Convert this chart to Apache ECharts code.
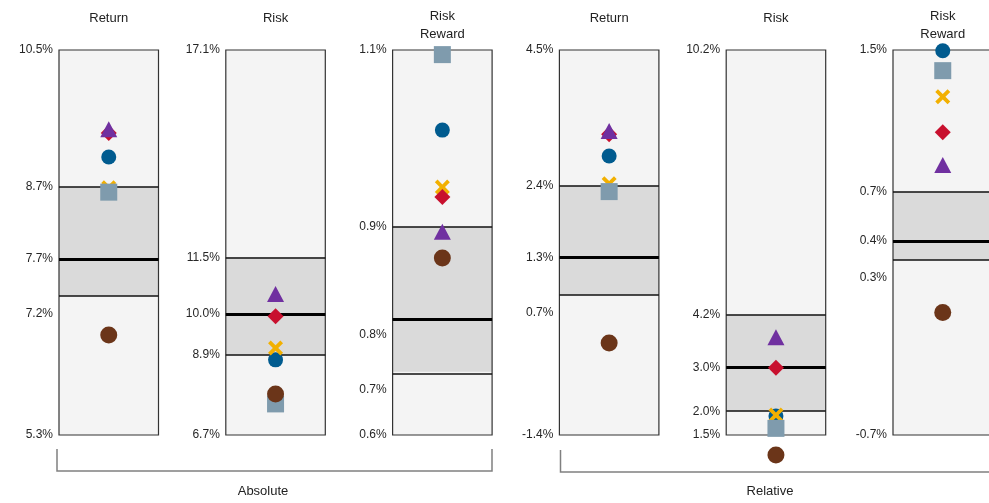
<!DOCTYPE html>
<html>
<head>
<meta charset="utf-8">
<script src="https://cdn.jsdelivr.net/npm/echarts@6/dist/echarts.min.js"></script>
<style>
html,body{margin:0;padding:0;background:#fff;}
#chart{width:989px;height:503px;}
</style>
</head>
<body>
<div id="chart"></div>
<script>
// ---------- DATA ----------
const panelTitles = ['Return', 'Risk', 'Risk\nReward', 'Return', 'Risk', 'Risk\nReward'];
const groupNames = ['Absolute', 'Relative'];

const axisMin = [5.3, 6.7, 0.6, -1.4, 1.5, -0.7];
const axisMax = [10.5, 17.1, 1.1, 4.5, 10.2, 1.5];
const q1Values = [7.18, 8.87, 0.682, 0.75, 2.035, 0.30];
const medianValues = [7.68, 9.97, 0.753, 1.32, 3.02, 0.41];
const q3Values = [8.65, 11.5, 0.870, 2.42, 4.22, 0.69];

// tick labels, top to bottom: max, upper quartile, median, lower quartile, min
const tickLabels = [
  ['10.5%', '8.7%', '7.7%', '7.2%', '5.3%'],
  ['17.1%', '11.5%', '10.0%', '8.9%', '6.7%'],
  ['1.1%', '0.9%', '0.8%', '0.7%', '0.6%'],
  ['4.5%', '2.4%', '1.3%', '0.7%', '-1.4%'],
  ['10.2%', '4.2%', '3.0%', '2.0%', '1.5%'],
  ['1.5%', '0.7%', '0.4%', '0.3%', '-0.7%']
];

const circleBlueValues = [9.055, 8.73, 0.996, 2.875, 1.93, 1.496];
const crossValues      = [8.64, 9.05, 0.922, 2.45, 1.95, 1.233];
const squareValues     = [8.58, 7.54, 1.094, 2.33, 1.65, 1.382];
const circleBrownValues= [6.65, 7.81, 0.830, 0.01, 1.05, 0.00];
const diamondValues    = [9.38, 9.91, 0.909, 3.21, 3.02, 1.03];
const triangleValues   = [9.43, 10.51, 0.864, 3.26, 3.71, 0.843];

// ---------- STYLE / LAYOUT ----------
const FONT = '"Liberation Sans", Arial, sans-serif';
const gridLeft0 = 59, gridStep = 166.8, gridWidth = 99.5, gridTop = 50, gridHeight = 385;
// label indices (in tickLabels order) drawn a little below their line
const shiftedLabels = {0: [3], 2: [2, 3], 3: [3], 5: [3]};

const markerDefs = [
  {name: 'Series B', values: circleBlueValues, symbol: 'circle', size: 15, color: '#005b8f'},
  {name: 'Series D', values: crossValues, symbol: 'path://M2.5,0 L7,4.5 L11.5,0 L14,2.5 L9.5,7 L14,11.5 L11.5,14 L7,9.5 L2.5,14 L0,11.5 L4.5,7 L0,2.5 Z', size: 15, color: '#f2b000'},
  {name: 'Series E', values: squareValues, symbol: 'rect', size: 17, color: '#7f9bad'},
  {name: 'Series F', values: circleBrownValues, symbol: 'circle', size: 17, color: '#6b3519'},
  {name: 'Series C', values: diamondValues, symbol: 'diamond', size: 16, color: '#c8102e'},
  {name: 'Series A', values: triangleValues, symbol: 'triangle', size: [17, 16], color: '#7030a0'}
];

const grids = [], xAxes = [], yAxes = [], series = [], graphics = [];

panelTitles.forEach((title, i) => {
  const left = gridLeft0 + gridStep * i;
  grids.push({left: left, top: gridTop, width: gridWidth, height: gridHeight, show: false, outerBoundsMode: 'none'});
  xAxes.push({type: 'category', gridIndex: i, data: [title], show: false, boundaryGap: true});
  const positions = [axisMax[i], q3Values[i], medianValues[i], q1Values[i], axisMin[i]];
  const lookup = {};
  positions.forEach((p, k) => {
    lookup[String(p)] = {text: tickLabels[i][k], shift: (shiftedLabels[i] || []).indexOf(k) >= 0};
  });
  yAxes.push({
    type: 'value', gridIndex: i, min: axisMin[i], max: axisMax[i],
    axisLine: {show: false}, axisTick: {show: false}, splitLine: {show: false},
    axisLabel: {
      customValues: positions,
      margin: 6, fontSize: 12, color: '#262626', fontFamily: FONT,
      showMinLabel: true, showMaxLabel: true,
      formatter: function (v) {
        const e = lookup[String(v)];
        if (!e) return '';
        return e.shift ? '{d|' + e.text + '}' : e.text;
      },
      rich: {d: {padding: [35, 0, 0, 0], fontSize: 12, color: '#262626', fontFamily: FONT}}
    }
  });
  // frame: background, quartile band, border, quartile & median lines
  series.push({
    type: 'scatter', xAxisIndex: i, yAxisIndex: i, silent: true, z: 1,
    data: [[0, medianValues[i]]], symbolSize: 0,
    markArea: {
      silent: true,
      data: [
        [{yAxis: axisMin[i], itemStyle: {color: '#f4f4f4'}}, {yAxis: axisMax[i]}],
        [{yAxis: q1Values[i], itemStyle: {color: '#dadada'}}, {yAxis: q3Values[i]}],
        [{yAxis: axisMin[i], itemStyle: {color: 'rgba(0,0,0,0)', borderColor: '#333', borderWidth: 1.2}}, {yAxis: axisMax[i]}]
      ]
    },
    markLine: {
      silent: true, symbol: 'none', label: {show: false},
      data: [
        {yAxis: q1Values[i], lineStyle: {color: '#111', width: 1.6, type: 'solid'}},
        {yAxis: q3Values[i], lineStyle: {color: '#111', width: 1.6, type: 'solid'}},
        {yAxis: medianValues[i], lineStyle: {color: '#000', width: 3, type: 'solid'}}
      ]
    }
  });
  // titles
  graphics.push({
    type: 'text', x: left + gridWidth / 2, y: title.indexOf('\n') >= 0 ? 25 : 18,
    style: {text: title, textAlign: 'center', textVerticalAlign: 'middle', font: '13px ' + FONT, fill: '#222', lineHeight: 18}
  });
});

markerDefs.forEach(m => {
  panelTitles.forEach((t, i) => {
    series.push({
      name: m.name, type: 'scatter', xAxisIndex: i, yAxisIndex: i, z: 5, clip: false,
      symbol: m.symbol, symbolSize: m.size, symbolKeepAspect: true,
      itemStyle: {color: m.color, opacity: 1},
      data: [[0, m.values[i]]]
    });
  });
});

// group brackets
graphics.push(
  {type: 'polyline', shape: {points: [[57, 449], [57, 471], [492, 471], [492, 449]]}, style: {stroke: '#808080', lineWidth: 1.5, fill: null}},
  {type: 'polyline', shape: {points: [[560.5, 450], [560.5, 472], [1010, 472], [1010, 450]]}, style: {stroke: '#808080', lineWidth: 1.5, fill: null}},
  {type: 'text', x: 263, y: 491, style: {text: groupNames[0], textAlign: 'center', textVerticalAlign: 'middle', font: '13px ' + FONT, fill: '#222'}},
  {type: 'text', x: 770, y: 491, style: {text: groupNames[1], textAlign: 'center', textVerticalAlign: 'middle', font: '13px ' + FONT, fill: '#222'}}
);

const chart = echarts.init(document.getElementById('chart'), null, {renderer: 'canvas'});
chart.setOption({
  animation: false,
  backgroundColor: '#fff',
  grid: grids, xAxis: xAxes, yAxis: yAxes, series: series,
  graphic: graphics,
  tooltip: {show: false}
});
</script>
</body>
</html>
